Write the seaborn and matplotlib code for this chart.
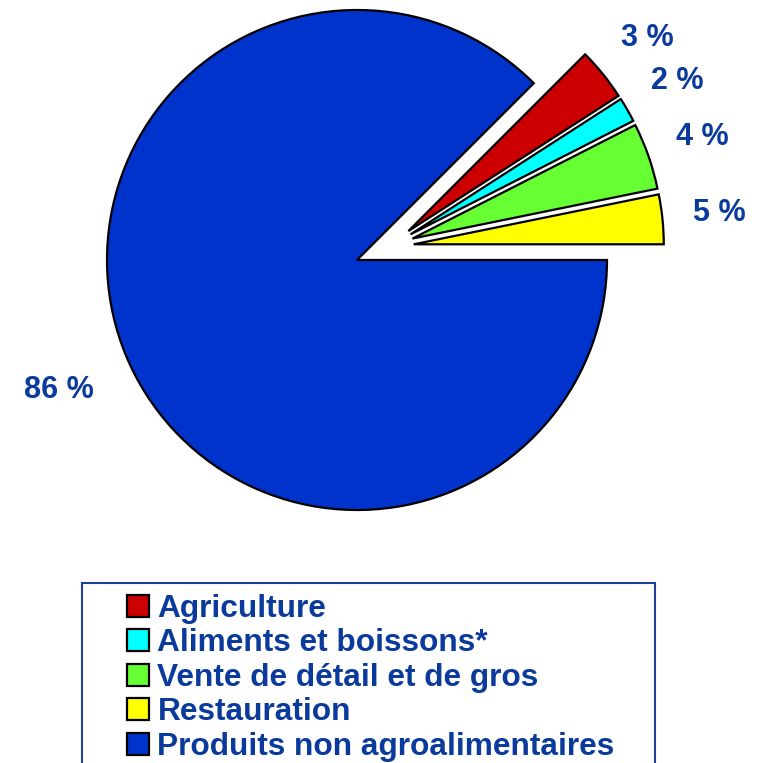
import matplotlib
import matplotlib.pyplot as plt
import numpy as np
import seaborn as sns
from matplotlib.patches import Rectangle

matplotlib.use("Agg")

# data (wedge sizes as drawn, labels as printed)
categories = [
    "Agriculture",
    "Aliments et boissons*",
    "Vente de détail et de gros",
    "Restauration",
    "Produits non agroalimentaires",
]
shares = [3.4, 1.6, 4.3, 3.2, 87.5]
pct_labels = ["3 %", "2 %", "4 %", "5 %", "86 %"]
slice_colors = ["#cc0000", "#00ffff", "#66ff33", "#ffff00", "#0033cc"]

TEXT_COLOR = "#0a3a9c"

sns.set_theme(style="white")
plt.rcParams["font.family"] = ["Liberation Sans", "DejaVu Sans"]
plt.rcParams["font.weight"] = "bold"

fig = plt.figure(figsize=(7.64, 7.63), dpi=100)
ax = fig.add_axes([0, 0, 1, 1])

# pixel layout: pie centre at (357, 260), radius 250 px
scale = 250.0
cx, cy = 357.0, 260.0
W, H = 764.0, 763.0

small_total = sum(shares[:4])
start = 360.0 * small_total / sum(shares)
explode = [0.1] * 4 + [0.0]

wedges, _ = ax.pie(
    shares,
    colors=slice_colors,
    startangle=start,
    counterclock=False,
    explode=explode,
    radius=1.0,
    wedgeprops=dict(edgecolor="black", linewidth=1.6),
)

# the small slices are pulled out together along the group bisector
group_angle = np.deg2rad(start / 2)
shift = 0.138
for w in wedges[:4]:
    x0, y0 = w.center
    w.set_center((x0 + shift * np.cos(group_angle), y0 + shift * np.sin(group_angle)))

# percentage labels near each wedge bisector
for i, (w, lab) in enumerate(zip(wedges, pct_labels)):
    mid = np.deg2rad((w.theta1 + w.theta2) / 2)
    if i < 4:
        dist = 1.23
    else:
        dist = 1.30
        mid += np.deg2rad(1.0)
    x0, y0 = w.center
    ax.text(x0 + dist * np.cos(mid), y0 + dist * np.sin(mid), lab,
            ha="center", va="center", fontsize=22, fontweight="bold", color=TEXT_COLOR)

ax.set_xlim(-cx / scale, (W - cx) / scale)
ax.set_ylim(-(H - cy) / scale, cy / scale)
ax.set_aspect("equal", adjustable="datalim")
ax.axis("off")


def px(x, y):
    return (x - cx) / scale, (cy - y) / scale


# legend frame (runs off the bottom of the image)
bx0, by0 = px(82, 800)
bx1, by1 = px(655, 583)
ax.add_patch(Rectangle((bx0, by0), bx1 - bx0, by1 - by0, fill=False,
                       edgecolor="#1f3f99", linewidth=1.5, clip_on=False))

leg = ax.legend(
    wedges,
    categories,
    loc="upper left",
    bbox_to_anchor=(127 / W, 1 - 594 / H),
    bbox_transform=fig.transFigure,
    frameon=False,
    fontsize=22.8,
    handlelength=0.68,
    handleheight=0.68,
    handletextpad=0.28,
    labelspacing=0.14,
    borderpad=0.0,
    borderaxespad=0.0,
)
for t in leg.get_texts():
    t.set_color(TEXT_COLOR)
    t.set_fontweight("bold")
for h in leg.legend_handles:
    h.set_linewidth(1.6)

fig.savefig("out.png", dpi=100)
